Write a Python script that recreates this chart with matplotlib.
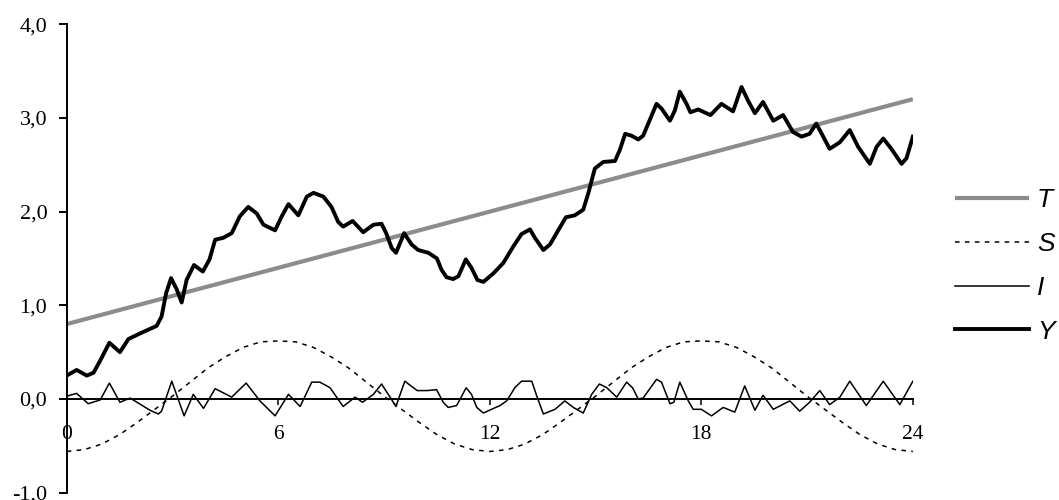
import numpy as np
import matplotlib
matplotlib.use("Agg")
import matplotlib.pyplot as plt
from matplotlib.font_manager import FontProperties

# trend component (linear)
t_x = list(range(0, 25))
t_vals = [0.80, 0.90, 1.00, 1.10, 1.20, 1.30, 1.40, 1.50, 1.60, 1.70, 1.80, 1.90, 2.00,
          2.10, 2.20, 2.30, 2.40, 2.50, 2.60, 2.70, 2.80, 2.90, 3.00, 3.10, 3.20]

# seasonal component, one period of 12 sampled every half unit
s_period = [-0.56, -0.54, -0.48, -0.38, -0.25, -0.11, 0.03, 0.18, 0.33, 0.45, 0.55, 0.61,
            0.62, 0.61, 0.55, 0.45, 0.33, 0.18, 0.03, -0.11, -0.25, -0.38, -0.48, -0.54]
s_vals = s_period * 2 + [-0.56]
s_x = [i * 0.5 for i in range(len(s_vals))]

# irregular component
i_x = [0.00, 0.28, 0.61, 0.95, 1.21, 1.51, 1.80, 2.36, 2.60, 2.69, 2.98, 3.33, 3.59, 3.88,
       4.21, 4.68, 5.09, 5.48, 5.91, 6.29, 6.62, 6.95, 7.18, 7.47, 7.84, 8.18, 8.39, 8.70,
       8.93, 9.17, 9.34, 9.43, 9.59, 9.94, 10.23, 10.49, 10.68, 10.82, 11.06, 11.33, 11.48,
       11.63, 11.82, 12.05, 12.29, 12.48, 12.71, 12.90, 13.19, 13.33, 13.52, 13.85, 14.13,
       14.37, 14.65, 14.89, 15.11, 15.32, 15.60, 15.88, 16.05, 16.21, 16.35, 16.73, 16.87,
       17.11, 17.22, 17.39, 17.63, 17.77, 18.00, 18.29, 18.62, 18.95, 19.09, 19.23, 19.52,
       19.75, 20.04, 20.51, 20.79, 21.07, 21.36, 21.64, 21.93, 22.21, 22.68, 23.16, 23.63,
       24.00]
i_vals = [0.03, 0.06, -0.05, -0.01, 0.17, -0.035, 0.01, -0.12, -0.16, -0.13, 0.19, -0.18,
          0.05, -0.10, 0.11, 0.02, 0.17, -0.02, -0.18, 0.05, -0.08, 0.18, 0.18, 0.12, -0.08,
          0.02, -0.035, 0.05, 0.16, 0.02, -0.08, 0.02, 0.19, 0.09, 0.09, 0.10, -0.035, -0.09,
          -0.07, 0.12, 0.05, -0.09, -0.15, -0.11, -0.07, -0.02, 0.12, 0.19, 0.19, 0.035,
          -0.16, -0.11, -0.02, -0.09, -0.15, 0.05, 0.16, 0.12, 0.02, 0.18, 0.12, 0.0, 0.01,
          0.21, 0.18, -0.05, -0.035, 0.18, -0.02, -0.11, -0.11, -0.18, -0.09, -0.14, 0.0,
          0.14, -0.12, 0.04, -0.11, -0.02, -0.13, -0.035, 0.09, -0.06, 0.02, 0.19, -0.07,
          0.19, -0.06, 0.19]

# observed series
y_x = [0.00, 0.28, 0.57, 0.76, 0.95, 1.21, 1.51, 1.75, 2.08, 2.55, 2.69, 2.82, 2.96, 3.12,
       3.26, 3.40, 3.61, 3.86, 4.05, 4.21, 4.44, 4.68, 4.91, 5.15, 5.39, 5.58, 5.91, 6.10,
       6.29, 6.57, 6.81, 7.00, 7.28, 7.51, 7.70, 7.84, 8.11, 8.41, 8.70, 8.93, 9.06, 9.22,
       9.34, 9.45, 9.57, 9.78, 9.97, 10.26, 10.50, 10.63, 10.77, 10.96, 11.11, 11.32, 11.48,
       11.65, 11.82, 12.10, 12.38, 12.67, 12.90, 13.14, 13.28, 13.52, 13.71, 13.94, 14.16,
       14.41, 14.65, 14.79, 14.98, 15.22, 15.55, 15.69, 15.84, 16.02, 16.21, 16.35, 16.73,
       16.87, 17.11, 17.25, 17.39, 17.58, 17.69, 17.91, 18.26, 18.57, 18.90, 19.14, 19.33,
       19.52, 19.75, 20.04, 20.32, 20.60, 20.84, 21.07, 21.26, 21.64, 21.93, 22.21, 22.45,
       22.78, 22.97, 23.16, 23.39, 23.68, 23.82, 24.00]
y_vals = [0.25, 0.31, 0.25, 0.28, 0.41, 0.60, 0.50, 0.64, 0.70, 0.78, 0.88, 1.13, 1.29, 1.17,
          1.03, 1.27, 1.43, 1.36, 1.49, 1.70, 1.72, 1.77, 1.95, 2.05, 1.98, 1.86, 1.80, 1.95,
          2.08, 1.96, 2.16, 2.20, 2.16, 2.05, 1.89, 1.84, 1.90, 1.78, 1.86, 1.87, 1.77, 1.61,
          1.56, 1.66, 1.77, 1.65, 1.59, 1.56, 1.50, 1.38, 1.30, 1.28, 1.31, 1.49, 1.40, 1.27,
          1.25, 1.34, 1.45, 1.63, 1.76, 1.81, 1.72, 1.59, 1.65, 1.80, 1.94, 1.96, 2.02, 2.19,
          2.46, 2.53, 2.54, 2.66, 2.83, 2.81, 2.77, 2.81, 3.15, 3.10, 2.97, 3.08, 3.28, 3.15,
          3.06, 3.09, 3.03, 3.15, 3.07, 3.33, 3.18, 3.05, 3.17, 2.97, 3.03, 2.85, 2.80, 2.83,
          2.94, 2.67, 2.74, 2.87, 2.69, 2.51, 2.69, 2.78, 2.67, 2.51, 2.57, 2.80]

x_ticks = [0, 6, 12, 18, 24]
x_labels = ["0", "6", "12", "18", "24"]
y_ticks = [-1, 0, 1, 2, 3, 4]
y_labels = ["-1,0", "0,0", "1,0", "2,0", "3,0", "4,0"]

fig = plt.figure(figsize=(10.59, 5.0), dpi=100)
ax = fig.add_axes([0.063, 0.0146, 0.799, 0.937])

ax.plot(t_x, t_vals, color="#8c8c8c", lw=3.0, label="T", solid_capstyle="butt")
ax.plot(s_x, s_vals, color="black", lw=1.1, ls=(0, (3, 3.5)), label="S")
ax.plot(i_x, i_vals, color="black", lw=1.1, label="I")
ax.plot(y_x, y_vals, color="black", lw=2.8, label="Y", solid_joinstyle="round")

ax.set_xlim(0, 24)
ax.set_ylim(-1, 4)

for side in ("top", "right"):
    ax.spines[side].set_visible(False)
ax.spines["bottom"].set_position(("data", 0))
ax.spines["bottom"].set_linewidth(1.4)
ax.spines["left"].set_linewidth(1.4)

ax.set_xticks(x_ticks)
ax.set_xticklabels(x_labels, fontfamily="Liberation Serif", fontsize=15.5)
ax.set_yticks(y_ticks)
ax.set_yticklabels(y_labels, fontfamily="Liberation Serif", fontsize=16)
ax.tick_params(axis="x", direction="out", length=4, width=1.1, pad=15)
ax.tick_params(axis="y", direction="out", length=6, width=1.4, pad=8)

ax.legend(loc="center left", bbox_to_anchor=(0.902, 0.468), bbox_transform=fig.transFigure,
          frameon=False, prop=FontProperties(family="Liberation Sans", style="italic", size=19),
          handlelength=2.8, handletextpad=0.3, labelspacing=0.75, borderpad=0, borderaxespad=0)

fig.savefig("out.png", dpi=100)
